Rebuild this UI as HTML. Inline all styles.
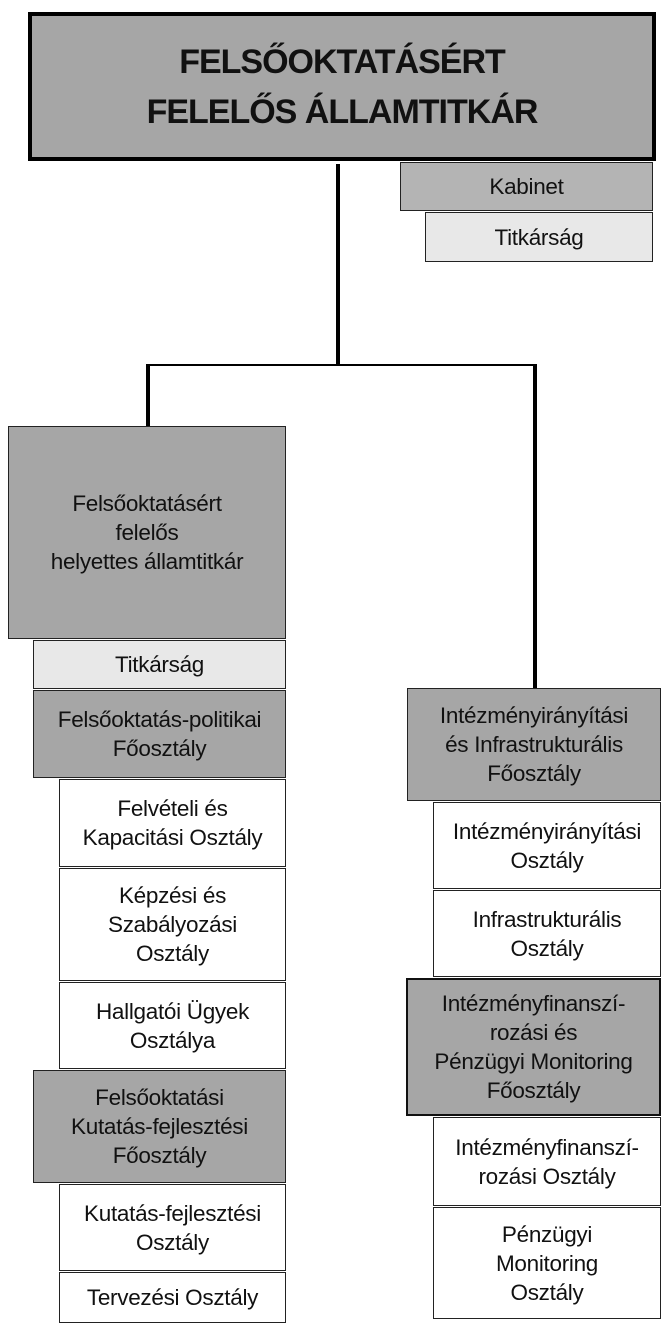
<!DOCTYPE html>
<html><head><meta charset="utf-8"><style>
body{margin:0;width:668px;height:1338px;background:#fff;position:relative;overflow:hidden;font-family:"Liberation Sans",sans-serif;}
.b{position:absolute;box-sizing:border-box;border:1px solid #222;display:flex;align-items:center;justify-content:center;text-align:center;font-size:22.5px;line-height:29px;color:#111;letter-spacing:-0.3px;}
.g{background:#a6a6a6}.m{background:#b4b4b4}.l{background:#e8e8e8}.w{background:#fff}
.ln{position:absolute;background:#000}
</style></head><body>
<div class="b g" style="left:28px;top:12px;width:628px;height:149px;border:4px solid #000;font-weight:bold;font-size:34px;line-height:50px;letter-spacing:-1px">FELSŐOKTATÁSÉRT<br>FELELŐS ÁLLAMTITKÁR</div>
<div class="b m" style="left:400px;top:162px;width:253px;height:49px">Kabinet</div>
<div class="b l" style="left:425px;top:212px;width:228px;height:50px">Titkárság</div>
<div class="ln" style="left:336px;top:164px;width:4px;height:202px"></div>
<div class="ln" style="left:146px;top:364px;width:391px;height:2px"></div>
<div class="ln" style="left:146px;top:364px;width:4px;height:62px"></div>
<div class="ln" style="left:533px;top:364px;width:4px;height:324px"></div>
<div class="b g" style="left:8px;top:426px;width:278px;height:213px">Felsőoktatásért<br>felelős<br>helyettes államtitkár</div>
<div class="b l" style="left:33px;top:640px;width:253px;height:49px">Titkárság</div>
<div class="b g" style="left:33px;top:690px;width:253px;height:88px">Felsőoktatás-politikai<br>Főosztály</div>
<div class="b w" style="left:59px;top:779px;width:227px;height:88px">Felvételi és<br>Kapacitási Osztály</div>
<div class="b w" style="left:59px;top:868px;width:227px;height:113px">Képzési és<br>Szabályozási<br>Osztály</div>
<div class="b w" style="left:59px;top:982px;width:227px;height:87px">Hallgatói Ügyek<br>Osztálya</div>
<div class="b g" style="left:33px;top:1070px;width:253px;height:113px">Felsőoktatási<br>Kutatás-fejlesztési<br>Főosztály</div>
<div class="b w" style="left:59px;top:1184px;width:227px;height:87px">Kutatás-fejlesztési<br>Osztály</div>
<div class="b w" style="left:59px;top:1272px;width:227px;height:51px">Tervezési Osztály</div>
<div class="b g" style="left:407px;top:688px;width:254px;height:113px">Intézményirányítási<br>és Infrastrukturális<br>Főosztály</div>
<div class="b w" style="left:433px;top:802px;width:228px;height:87px">Intézményirányítási<br>Osztály</div>
<div class="b w" style="left:433px;top:890px;width:228px;height:87px">Infrastrukturális<br>Osztály</div>
<div class="b g" style="left:406px;top:978px;width:255px;height:138px;border:2px solid #111">Intézményfinanszí-<br>rozási és<br>Pénzügyi Monitoring<br>Főosztály</div>
<div class="b w" style="left:433px;top:1117px;width:228px;height:89px">Intézményfinanszí-<br>rozási Osztály</div>
<div class="b w" style="left:433px;top:1207px;width:228px;height:112px">Pénzügyi<br>Monitoring<br>Osztály</div>
</body></html>
